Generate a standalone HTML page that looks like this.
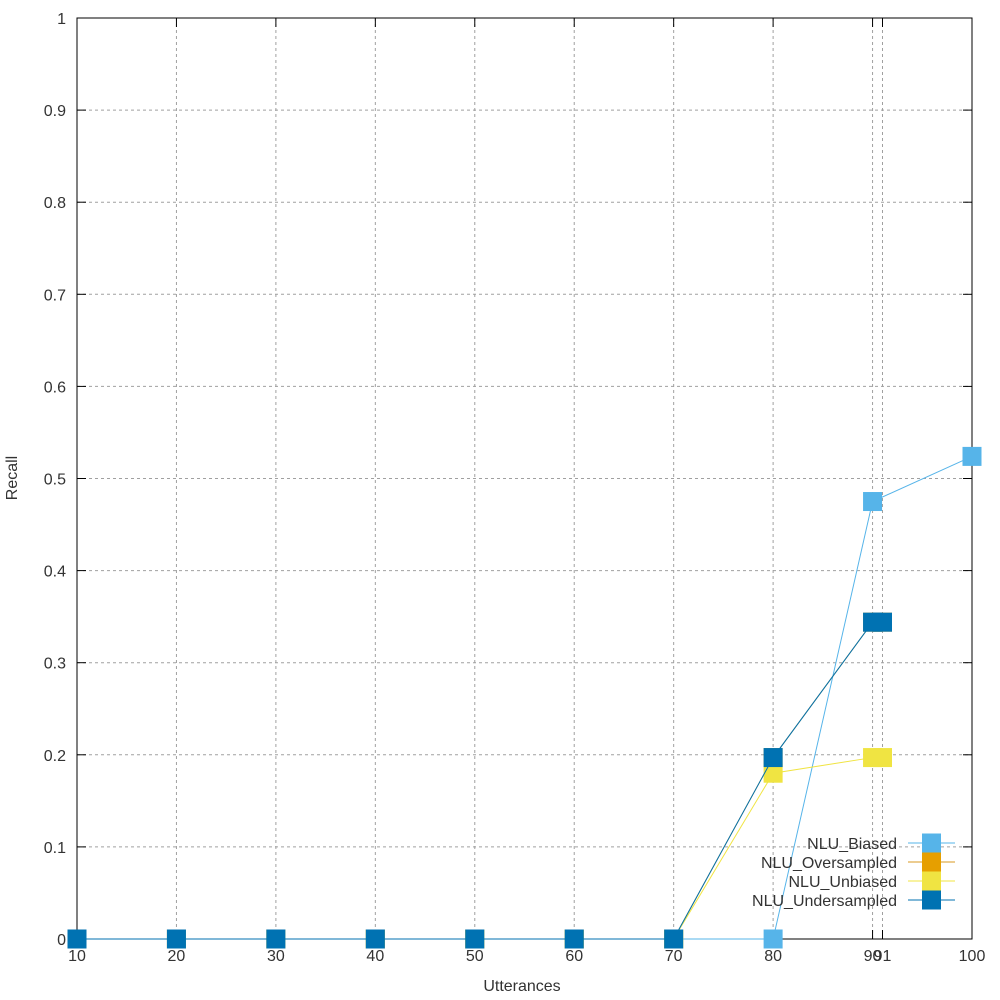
<!DOCTYPE html>
<html><head><meta charset="utf-8">
<style>
html,body{margin:0;padding:0;background:#fff;}
svg{display:block;font-family:"Liberation Sans",sans-serif;}
</style></head>
<body>
<svg id="chart" width="1000" height="1000" xmlns="http://www.w3.org/2000/svg">
<rect width="1000" height="1000" fill="#fff"/>
<g id="grid"></g>
<g id="axes"></g>
<g id="series"></g>
<g id="legend"></g>
<text x="522" y="991" font-size="16" fill="#333" text-anchor="middle">Utterances</text>
<text x="17" y="478" font-size="16" fill="#333" text-anchor="middle" transform="rotate(-90 17 478)">Recall</text>
</svg>
<script>
const xTicks = [10,20,30,40,50,60,70,80,90,91,100];
const xTickLabels = ["10","20","30","40","50","60","70","80","90","91","100"];
const yTicks = [0,0.1,0.2,0.3,0.4,0.5,0.6,0.7,0.8,0.9,1];
const yTickLabels = ["0","0.1","0.2","0.3","0.4","0.5","0.6","0.7","0.8","0.9","1"];
const seriesNames = ["NLU_Biased","NLU_Oversampled","NLU_Unbiased","NLU_Undersampled"];
const seriesColors = ["#56b4e9","#e69f00","#f0e442","#0072b2"];
const lineColors = ["#56b4e9","#d89a20","#f0e442","#0072b2"];
const biasedX = [10,20,30,40,50,60,70,80,90,100];
const biasedY = [0,0,0,0,0,0,0,0,0.475,0.524];
const overX = [10,20,30,40,50,60,70,80,90,91];
const overY = [0,0,0,0,0,0,0,0.197,0.344,0.344];
const unbiasedX = [10,20,30,40,50,60,70,80,90,91];
const unbiasedY = [0,0,0,0,0,0,0,0.18,0.197,0.197];
const underX = [10,20,30,40,50,60,70,80,90,91];
const underY = [0,0,0,0,0,0,0,0.197,0.344,0.344];

const L=77,R=972,T=18,B=939;
const sx = v => L + (v-10)/(100-10)*(R-L);
const sy = v => B - v*(B-T);
const NS="http://www.w3.org/2000/svg";
function mk(tag, attrs, parent){const e=document.createElementNS(NS,tag);for(const k in attrs)e.setAttribute(k,attrs[k]);parent.appendChild(e);return e;}
const grid=document.getElementById('grid'), axes=document.getElementById('axes'), ser=document.getElementById('series'), leg=document.getElementById('legend');

xTicks.forEach((t,i)=>{
  const x=sx(t);
  if(t>10&&t<100){const g=mk('line',{x1:x,x2:x,y1:T,y2:B,stroke:'#a0a0a0','stroke-width':1,'stroke-dasharray':'3,3'},grid);
  
  }
  const tk=mk('line',{x1:x,x2:x,y1:B,y2:B-9,stroke:'#000'},axes);
  
  
  const tk2=mk('line',{x1:x,x2:x,y1:T,y2:T+9,stroke:'#000'},axes);
  
  
  const lb=mk('text',{x:x,y:B+22,'font-size':16,fill:'#333','text-anchor':'middle'},axes);
  lb.textContent=xTickLabels[i];
  
  
});
yTicks.forEach((t,i)=>{
  const y=sy(t);
  if(t>0&&t<1){const g=mk('line',{x1:L,x2:R,y1:y,y2:y,stroke:'#a0a0a0','stroke-width':1,'stroke-dasharray':'3,3'},grid);
  
  }
  const tk=mk('line',{x1:L,x2:L+9,y1:y,y2:y,stroke:'#000'},axes);
  
  
  const tk2=mk('line',{x1:R,x2:R-9,y1:y,y2:y,stroke:'#000'},axes);
  
  
  const lb=mk('text',{x:L-11,y:y+6,'font-size':16,fill:'#333','text-anchor':'end'},axes);
  lb.textContent=yTickLabels[i];
  
  
});
const frame=mk('rect',{x:L,y:T,width:R-L,height:B-T,fill:'none',stroke:'#000','stroke-width':1},axes);



const allX=[biasedX,overX,unbiasedX,underX], allY=[biasedY,overY,unbiasedY,underY];
allX.forEach((xs,s)=>{
  const g=mk('g',{},ser);
  
  
  const pts=xs.map((x,i)=>sx(x)+','+sy(allY[s][i])).join(' ');
  const pl=mk('polyline',{points:pts,fill:'none',stroke:lineColors[s],'stroke-width':1},g);
  
  
  xs.forEach((x,i)=>{
    const r=mk('rect',{x:sx(x)-9.5,y:sy(allY[s][i])-9.5,width:19,height:19,fill:seriesColors[s]},g);
    
    
  });
});

seriesNames.forEach((n,i)=>{
  const y=843+i*19;
  const t=mk('text',{x:897,y:y+6,'font-size':16,fill:'#333','text-anchor':'end'},leg);
  t.textContent=n;
  
  
  const l=mk('line',{x1:908,x2:955,y1:y,y2:y,stroke:lineColors[i]},leg);
  
  
  const r=mk('rect',{x:922,y:y-9.5,width:19,height:19,fill:seriesColors[i]},leg);
  
  
});
</script>
</body></html>
